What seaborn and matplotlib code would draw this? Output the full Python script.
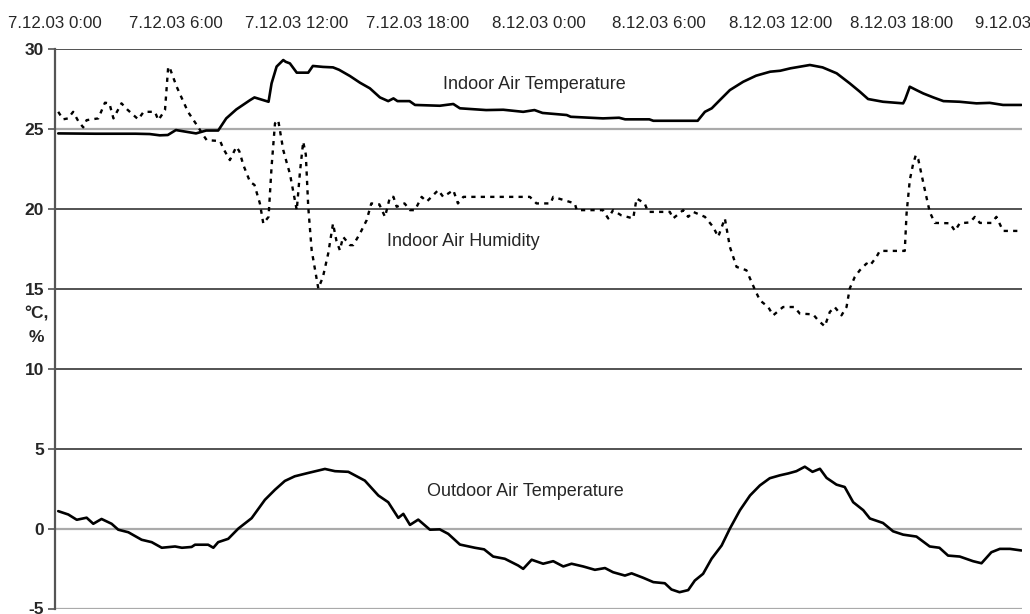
import matplotlib
matplotlib.use("Agg")
import matplotlib.pyplot as plt
import seaborn as sns
import pandas as pd

# ---- data (hours since 7.12.03 0:00) ----
tick_hours = [0, 6, 12, 18, 24, 30, 36, 42, 48]
tick_labels = ["7.12.03 0:00", "7.12.03 6:00", "7.12.03 12:00", "7.12.03 18:00",
               "8.12.03 0:00", "8.12.03 6:00", "8.12.03 12:00", "8.12.03 18:00",
               "9.12.03 0:00"]
y_ticks = [-5, 0, 5, 10, 15, 20, 25, 30]

indoor_t_h = [0.16, 2.0, 4.0, 4.7, 5.2, 5.6, 6.0, 7.0, 7.5, 8.1, 8.5, 9.0, 9.68, 9.9,
              10.6, 10.75, 11.0, 11.33, 11.45, 11.66, 12.0, 12.57, 12.8, 13.3, 13.8,
              14.1, 14.64, 15.14, 15.63, 16.13, 16.54, 16.8, 17.0, 17.6, 17.87, 19.1,
              19.77, 20.1, 21.4, 22.25, 23.24, 23.8, 24.2, 25.4, 25.6, 27.2, 28.0,
              28.3, 29.5, 29.7, 31.9, 32.26, 32.6, 33.0, 33.5, 34.16, 34.8, 35.5,
              36.0, 36.5, 37.47, 38.1, 38.8, 39.45, 39.95, 40.36, 41.1, 42.1, 42.2,
              42.43, 42.76, 43.1, 43.6, 44.1, 44.9, 45.74, 46.4, 47.06, 47.97]
indoor_t_v = [24.72, 24.7, 24.7, 24.68, 24.6, 24.62, 24.93, 24.72, 24.9, 24.9, 25.66,
              26.22, 26.8, 26.97, 26.7, 27.85, 28.9, 29.31, 29.2, 29.1, 28.52, 28.52,
              28.94, 28.88, 28.85, 28.7, 28.31, 27.89, 27.54, 26.97, 26.74, 26.91,
              26.74, 26.74, 26.5, 26.45, 26.56, 26.29, 26.18, 26.2, 26.07, 26.18,
              26.0, 25.87, 25.76, 25.66, 25.7, 25.6, 25.6, 25.51, 25.51, 26.07,
              26.29, 26.8, 27.43, 27.95, 28.33, 28.58, 28.64, 28.79, 29.0, 28.85,
              28.48, 27.85, 27.33, 26.87, 26.7, 26.6, 26.85, 27.64, 27.43, 27.22,
              26.97, 26.74, 26.7, 26.6, 26.63, 26.5, 26.5]

humid_h = [0.16, 0.4, 0.65, 0.9, 1.15, 1.4, 1.57, 2.15, 2.48, 2.7, 2.9, 3.3, 3.6,
           4.13, 4.4, 4.96, 5.13, 5.46, 5.62, 5.7, 6.04, 6.6, 7.1, 7.36, 7.53, 8.2,
           8.35, 8.68, 9.0, 9.15, 9.35, 9.68, 9.9, 10.17, 10.34, 10.6, 10.75, 10.92,
           11.08, 11.33, 11.5, 11.66, 12.0, 12.16, 12.32, 12.45, 12.57, 12.74, 13.07,
           13.3, 13.56, 13.8, 13.97, 14.14, 14.3, 14.64, 14.8, 15.14, 15.47, 15.7,
           16.1, 16.38, 16.63, 16.8, 16.96, 17.35, 17.62, 17.87, 18.2, 18.45, 19.02,
           19.27, 19.77, 20.0, 20.27, 23.57, 23.9, 24.6, 24.73, 25.8, 25.9, 27.2,
           27.46, 27.7, 28.1, 28.7, 28.87, 29.27, 29.44, 30.52, 30.68, 31.18, 31.43,
           31.68, 32.26, 32.67, 32.92, 33.25, 33.5, 33.83, 34.32, 34.74, 34.99,
           35.4, 35.65, 36.14, 36.7, 36.97, 37.63, 37.88, 38.21, 38.46, 38.7, 39.04,
           39.29, 39.45, 39.7, 39.95, 40.28, 40.45, 40.78, 40.94, 42.18, 42.27,
           42.43, 42.6, 42.73, 42.85, 43.18, 43.42, 43.67, 44.42, 44.67, 44.91,
           45.41, 45.66, 45.91, 46.48, 46.73, 47.06, 47.8]
humid_v = [26.07, 25.6, 25.66, 26.07, 25.5, 25.1, 25.55, 25.66, 26.64, 26.6, 25.66,
           26.6, 26.2, 25.6, 26.07, 26.07, 25.55, 26.18, 28.9, 28.8, 27.64, 26.07,
           25.13, 24.61, 24.3, 24.24, 23.78, 23.05, 23.88, 23.6, 22.74, 21.69,
           21.5, 20.34, 19.08, 19.5, 22.63, 25.35, 25.55, 23.68, 22.9, 22.2, 19.92,
           22.32, 24.2, 23.4, 20.13, 17.41, 15.02, 15.74, 17.2, 19.08, 18.0, 17.41,
           18.25, 17.73, 17.73, 18.46, 19.29, 20.34, 20.28, 19.5, 20.75, 20.75,
           20.13, 20.34, 19.92, 19.92, 20.75, 20.45, 21.17, 20.75, 21.17, 20.34,
           20.75, 20.75, 20.34, 20.34, 20.75, 20.34, 19.92, 19.92, 19.4, 19.92,
           19.6, 19.4, 20.65, 20.34, 19.81, 19.81, 19.4, 19.92, 19.5, 19.81, 19.5,
           18.87, 18.25, 19.4, 17.62, 16.37, 16.16, 14.95, 14.28, 13.86, 13.34,
           13.86, 13.86, 13.45, 13.4, 13.03, 12.65, 13.55, 13.86, 13.34, 13.86,
           15.02, 15.74, 16.16, 16.58, 16.45, 17.0, 17.37, 17.37, 19.71, 21.8,
           22.84, 23.36, 23.1, 21.17, 19.81, 19.12, 19.1, 18.62, 19.1, 19.15, 19.5,
           19.12, 19.12, 19.5, 18.62, 18.62]

outdoor_h = [0.16, 0.66, 1.08, 1.57, 1.9, 2.31, 2.81, 3.14, 3.64, 4.3, 4.8, 5.3,
             5.96, 6.3, 6.78, 6.95, 7.6, 7.86, 8.1, 8.6, 9.1, 9.76, 10.42, 10.92,
             11.41, 11.9, 12.57, 13.4, 13.9, 14.56, 15.38, 16.05, 16.54, 17.04,
             17.29, 17.62, 18.03, 18.61, 19.1, 19.52, 20.1, 20.84, 21.3, 21.75,
             22.33, 22.99, 23.24, 23.66, 24.23, 24.73, 25.23, 25.64, 26.22, 26.8,
             27.3, 27.7, 28.29, 28.62, 29.2, 29.7, 30.27, 30.6, 31.0, 31.43, 31.76,
             32.17, 32.59, 33.09, 33.5, 34.0, 34.5, 34.99, 35.48, 35.98, 36.4, 36.8,
             37.22, 37.6, 37.97, 38.3, 38.79, 39.2, 39.62, 40.12, 40.45, 41.1, 41.6,
             42.1, 42.76, 43.42, 43.9, 44.33, 44.91, 45.57, 45.99, 46.48, 46.9,
             47.4, 47.97]
outdoor_v = [1.09, 0.88, 0.55, 0.68, 0.3, 0.6, 0.3, -0.07, -0.23, -0.7, -0.85, -1.2,
             -1.12, -1.2, -1.15, -1.01, -1.01, -1.2, -0.85, -0.64, 0.0, 0.65, 1.8,
             2.43, 2.98, 3.27, 3.48, 3.73, 3.59, 3.55, 3.0, 2.07, 1.65, 0.67, 0.92,
             0.23, 0.56, -0.07, -0.05, -0.33, -1.0, -1.2, -1.3, -1.75, -1.89, -2.31,
             -2.52, -1.95, -2.2, -2.04, -2.37, -2.2, -2.37, -2.58, -2.47, -2.73,
             -2.94, -2.8, -3.08, -3.35, -3.42, -3.81, -3.98, -3.85, -3.25, -2.83,
             -1.89, -1.06, 0.0, 1.15, 2.07, 2.7, 3.15, 3.33, 3.45, 3.59, 3.87, 3.55,
             3.74, 3.17, 2.75, 2.6, 1.65, 1.15, 0.63, 0.35, -0.17, -0.38, -0.5,
             -1.12, -1.2, -1.69, -1.75, -2.04, -2.17, -1.48, -1.27, -1.27, -1.37]

df_in = pd.DataFrame({"h": indoor_t_h, "v": indoor_t_v})
df_hu = pd.DataFrame({"h": humid_h, "v": humid_v})
df_out = pd.DataFrame({"h": outdoor_h, "v": outdoor_v})

sns.set_style("white")
plt.rcParams["font.family"] = ["Liberation Sans", "DejaVu Sans"]

fig = plt.figure(figsize=(10.30, 6.14), dpi=100)
ax = fig.add_axes([55 / 1030, 1 - 608.5 / 614, (1022 - 55) / 1030, (608.5 - 49) / 614])

sns.lineplot(data=df_in, x="h", y="v", ax=ax, color="black", lw=1.9)
sns.lineplot(data=df_out, x="h", y="v", ax=ax, color="black", lw=1.9)
sns.lineplot(data=df_hu, x="h", y="v", ax=ax, color="black", lw=1.7,
             linestyle=(0, (1.8, 2.2)))

ax.set_xlim(0, 48)
ax.set_ylim(-5, 30)
ax.set_yticks(y_ticks)
ax.set_yticklabels([str(t) for t in y_ticks], fontsize=12.5, fontweight="bold")
ax.xaxis.tick_top()
ax.set_xticks(tick_hours)
ax.set_xticklabels(tick_labels, fontsize=12.2)
ax.tick_params(axis="x", length=0, pad=13)
ax.tick_params(axis="y", length=5, width=1.2, color="#555555", pad=3, direction="out",
               left=True)
ax.set_xlabel("")
ax.set_ylabel("°C,\n%", rotation=0, fontsize=12.5, fontweight="bold",
              ha="center", va="center", linespacing=1.7)
ax.yaxis.set_label_coords(-0.019, 0.506)

ax.grid(axis="y", color="#444444", lw=1.3)
ax.grid(axis="x", visible=False)
for val, gl in zip(y_ticks, ax.get_ygridlines()):
    if val in (25, 0, -5):
        gl.set_color("#aaaaaa")
        gl.set_linewidth(1.6)
ax.set_axisbelow(True)

for s in ("top", "right", "bottom"):
    ax.spines[s].set_visible(False)
ax.spines["left"].set_color("#555555")
ax.spines["left"].set_linewidth(1.6)

ax.text(19.26, 27.8, "Indoor Air Temperature", fontsize=13, ha="left", va="center")
ax.text(16.5, 17.98, "Indoor Air Humidity", fontsize=13, ha="left", va="center")
ax.text(18.46, 2.32, "Outdoor Air Temperature", fontsize=13, ha="left", va="center")

fig.savefig("out.png", dpi=100)
